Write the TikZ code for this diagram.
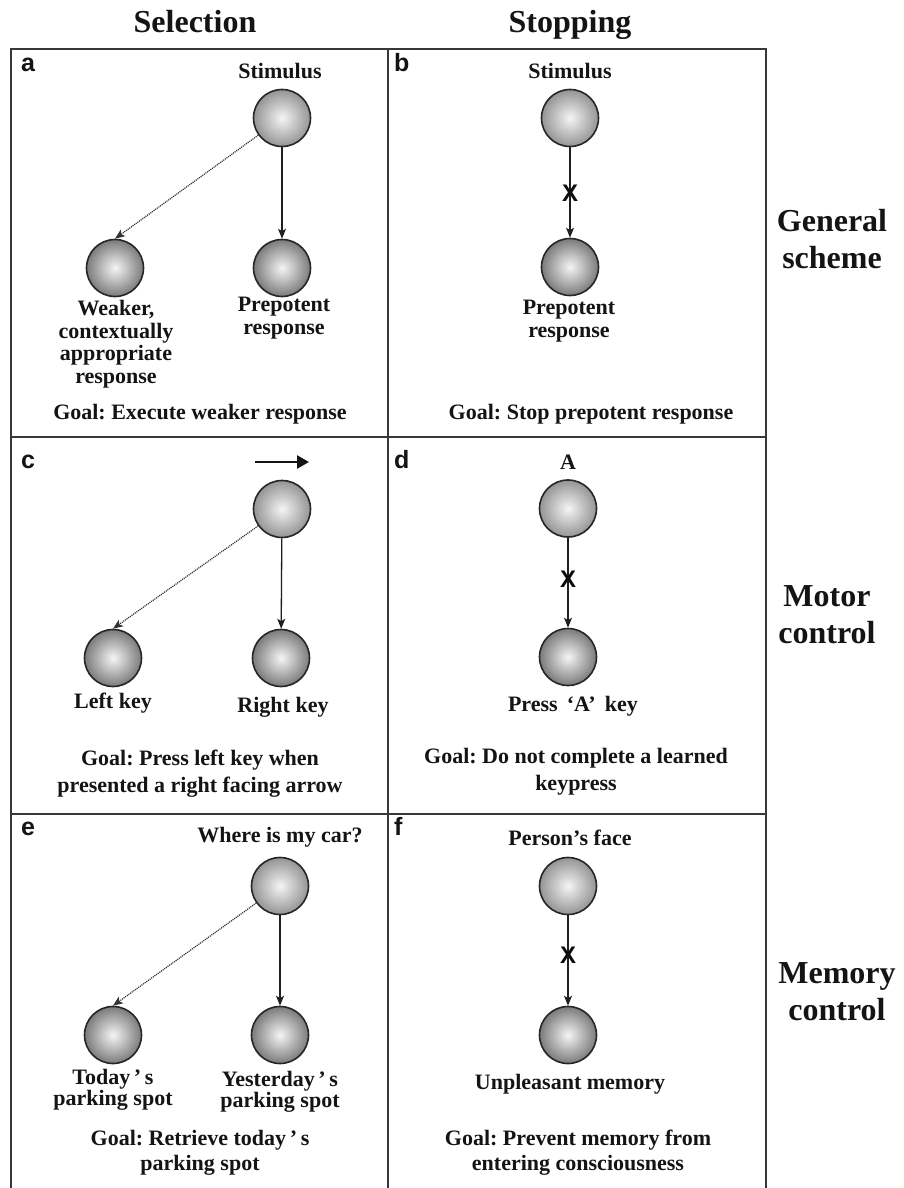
\documentclass[tikz,border=0pt]{standalone}
\usepackage{fontspec}
\setmainfont{Liberation Serif}
\newfontfamily\lsans{Liberation Sans}
\usetikzlibrary{arrows.meta}
\frenchspacing
\begin{document}
\begin{tikzpicture}[x=1pt,y=-1pt,
  frame/.style={draw=black!78, line width=1.7pt},
  lbl/.style={font=\bfseries\fontsize{22}{22.5}\selectfont, align=center, inner sep=0pt, text=black!92},
  goal/.style={font=\bfseries\fontsize{22}{27}\selectfont, align=center, inner sep=0pt, text=black!92},
  hdr/.style={font=\bfseries\fontsize{32}{37}\selectfont, align=center, inner sep=0pt, text=black!92},
  plet/.style={font=\lsans\bfseries\fontsize{25}{25}\selectfont, inner sep=0pt, anchor=base west, text=black!92},
  ballbase/.style={circle, minimum size=57pt, inner sep=0pt, draw=black!85, line width=1.6pt, inner color=white!96!black},
  topball/.style={ballbase, outer color=black!42},
  botball/.style={ballbase, outer color=black!52},
  conn/.style={draw=black!88, line width=1.3pt, -{Stealth[length=10pt,width=8pt,inset=2.5pt]}},
  weak/.style={draw=black!80, line width=1.2pt, dash pattern=on 1.1pt off 0.9pt, -{Stealth[length=10pt,width=8pt,inset=2.5pt]}},
  xmark/.style={font=\lsans\bfseries\fontsize{24}{24}\selectfont, inner sep=0pt, text=black!95},
  glyph/.style={draw=black!92, line width=2.4pt, -{Triangle[length=12pt,width=13pt]}}
]
\useasboundingbox[fill=white] (0,0) rectangle (903,1188);

% headers
\node[hdr, anchor=base] (hsel) at (195,33) {Selection};
\node[hdr, anchor=base] (hstop) at (570,33) {Stopping};

% frame
\draw[frame] (11,1188) -- (11,49) -- (766,49) -- (766,1188);
\draw[frame] (388,49) -- (388,1188);
\draw[frame] (11,437) -- (766,437);
\draw[frame] (11,814) -- (766,814);

% row labels
\node[hdr] (rgen) at (832,239) {General\\scheme};
\node[hdr] (rmot) at (827,615) {Motor\\control};
\node[hdr] (rmem) at (837,992) {Memory\\control};

% ---------- panel a ----------
\node[plet] (pa) at (21,72) {a};
\node[lbl] (aStimL) at (280,71.5) {Stimulus};
\node[topball] (aS) at (282,118) {};
\node[botball] (aL) at (115,268) {};
\node[botball] (aR) at (282,268) {};
\draw[weak] (aS) -- (aL.north);
\draw[conn] (aS) -- (aR);
\node[lbl] (aLL) at (116,344) {Weaker,\\contextually\\appropriate\\response};
\node[lbl] (aRL) at (284,318) {Prepotent\\response};
\node[goal] (aG) at (200,414) {Goal: Execute weaker response};

% ---------- panel b ----------
\node[plet] (pb) at (394,72) {b};
\node[lbl] (bStimL) at (570,71.5) {Stimulus};
\node[topball] (bS) at (570,118) {};
\node[botball] (bR) at (570,267) {};
\draw[conn] (bS) -- (bR);
\node[xmark] (bX) at (570,193) {X};
\node[lbl] (bRL) at (569,321) {Prepotent\\response};
\node[goal] (bG) at (591,414) {Goal: Stop prepotent response};

% ---------- panel c ----------
\node[plet] (pc) at (21,468) {c};
\coordinate (cA1) at (255,462);
\coordinate (cA2) at (309,462);
\draw[glyph] (cA1) -- (cA2);
\node[topball] (cS) at (282,509) {};
\node[botball] (cL) at (113,658) {};
\node[botball] (cR) at (281,658) {};
\draw[weak] (cS) -- (cL.north);
\draw[conn] (cS) -- (cR);
\node[lbl] (cLL) at (113,703) {Left key};
\node[lbl] (cRL) at (283,707) {Right key};
\node[goal] (cG) at (200,774) {Goal: Press left key when\\presented a right facing arrow};

% ---------- panel d ----------
\node[plet] (pd) at (394,468) {d};
\node[lbl] (dStimL) at (568,462) {A};
\node[topball] (dS) at (568,508.5) {};
\node[botball] (dR) at (568,657) {};
\draw[conn] (dS) -- (dR);
\node[xmark] (dX) at (568,579) {X};
\node[lbl] (dRL) at (573,706) {Press\, ‘A’\, key};
\node[goal] (dG) at (576,772) {Goal: Do not complete a learned\\keypress};

% ---------- panel e ----------
\node[plet] (pe) at (21,835) {e};
\node[lbl] (eStimL) at (280,837) {Where is my car?};
\node[topball] (eS) at (280,886) {};
\node[botball] (eL) at (113,1035) {};
\node[botball] (eR) at (280,1035) {};
\draw[weak] (eS) -- (eL.north);
\draw[conn] (eS) -- (eR);
\node[lbl, font=\bfseries\fontsize{22}{20.5}\selectfont] (eLL) at (113,1090) {Today\,’\,s\\parking spot};
\node[lbl, font=\bfseries\fontsize{22}{20.5}\selectfont] (eRL) at (280,1092) {Yesterday\,’\,s\\parking spot};
\node[goal, font=\bfseries\fontsize{22}{25}\selectfont] (eG) at (200,1153) {Goal: Retrieve today\,’\,s\\parking spot};

% ---------- panel f ----------
\node[plet] (pf) at (394,835) {f};
\node[lbl] (fStimL) at (570,838) {Person’s face};
\node[topball] (fS) at (568,886) {};
\node[botball] (fR) at (568,1035) {};
\draw[conn] (fS) -- (fR);
\node[xmark] (fX) at (568,955) {X};
\node[lbl] (fRL) at (570,1084) {Unpleasant memory};
\node[goal, font=\bfseries\fontsize{22}{25}\selectfont] (fG) at (578,1153) {Goal: Prevent memory from\\entering consciousness};
\end{tikzpicture}
\end{document}
